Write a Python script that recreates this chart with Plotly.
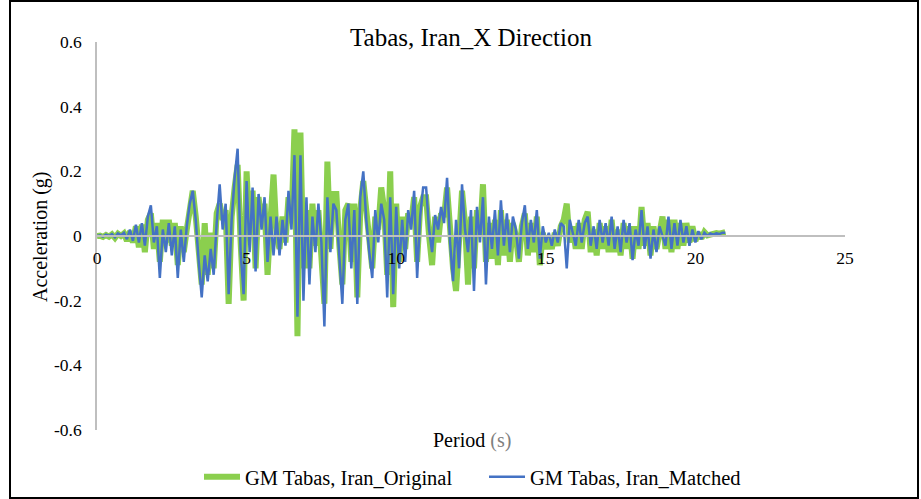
import numpy as np
import plotly.graph_objects as go

# sample times (s), 0.1 s step read grid
time_s = [round(0.1 * i, 1) for i in range(211)]

# GM Tabas, Iran_Original (g), values read per second of record
original = [
    0, 0.001, -0.003, 0.003, -0.002, 0.005, -0.006, 0.007, 0.000, 0.008,
    -0.015, 0.015, -0.02, 0.03, -0.035, 0.035, -0.05, 0.05, 0.07, -0.04,
    0.04, -0.08, 0.05, -0.02, 0.05, -0.03, 0.04, -0.09, 0.03, -0.05,
    0.02, 0.10, 0.14, 0.06, -0.05, -0.15, 0.04, -0.12, 0.01, -0.10,
    0.07, 0.10, 0.05, 0.08, -0.21, 0.06, 0.15, 0.22, -0.02, -0.20,
    0.20, 0.0, 0.14, -0.10, 0.12, 0.04, 0.10, -0.12, 0.05, 0.19,
    0.0, -0.04, 0.06, -0.02, 0.12, 0.04, 0.33, -0.31, 0.32, -0.10,
    0.08, -0.10, 0.10, -0.03, 0.08, -0.05, -0.21, 0.23, -0.04, 0.13,
    0.13, -0.03, -0.15, 0.08, 0.10, -0.08, 0.10, -0.19, 0.08, 0.17,
    0.07, -0.02, -0.10, 0.06, 0.02, 0.15, 0.08, -0.12, 0.20, -0.22,
    0.10, -0.08, 0.06, -0.04, 0.07, 0.04, 0.12, -0.08, 0.09, 0.12,
    0.12, 0.0, -0.09, 0.06, -0.02, 0.07, 0.06, 0.15, 0.00, -0.10,
    -0.17, -0.03, 0.14, 0.04, -0.15, 0.06, -0.10, 0.08, 0.00, 0.16,
    -0.08, 0.04, -0.07, 0.05, -0.09, 0.08, -0.06, 0.05, -0.08, 0.04,
    0.00, -0.08, 0.03, 0.07, -0.06, 0.04, -0.05, 0.06, -0.09, 0.01,
    -0.04, -0.01, -0.04, 0.01, -0.03, 0.03, 0.05, 0.10, -0.02, 0.03,
    -0.04, 0.04, -0.04, 0.05, 0.075, -0.05, 0.02, -0.06, 0.04, -0.04,
    0.03, -0.05, 0.05, -0.05, 0.02, -0.06, 0.04, -0.04, 0.03, -0.07,
    0.03, -0.04, 0.09, -0.03, 0.04, -0.06, 0.03, -0.04, 0.02, 0.06,
    -0.04, 0.05, -0.05, 0.05, -0.04, 0.04, -0.03, 0.04, -0.02, 0.03,
    -0.015, 0.01, -0.008, 0.012, 0.002, 0.006, 0.005, 0.009, 0.007, 0.01, 0.012,
]

# GM Tabas, Iran_Matched (g)
matched = [
    0, 0.002, -0.002, 0.004, 0.000, 0.006, -0.004, 0.008, 0.002, 0.01,
    -0.01, 0.02, -0.015, 0.035, -0.02, 0.04, -0.03, 0.06, 0.095, -0.02,
    0.03, -0.13, 0.02, -0.05, 0.04, -0.06, 0.03, -0.13, 0.02, -0.08,
    0.03, 0.10, 0.14, 0.05, -0.08, -0.19, -0.06, -0.14, -0.04, -0.12,
    0.04, 0.16, 0.02, 0.10, -0.18, 0.05, 0.18, 0.27, -0.05, -0.18,
    0.17, -0.05, 0.15, -0.11, 0.13, 0.02, 0.12, -0.08, 0.06, -0.06,
    0.06, -0.06, 0.05, -0.03, 0.14, 0.02, 0.25, -0.25, 0.25, -0.20,
    0.12, -0.15, 0.06, -0.05, 0.10, -0.02, -0.28, 0.12, -0.05, 0.10,
    0.08, -0.05, -0.21, 0.05, 0.10, -0.10, 0.08, -0.21, 0.12, 0.20,
    0.05, -0.05, -0.13, 0.08, -0.02, 0.10, 0.05, -0.19, 0.12, -0.18,
    0.09, -0.10, 0.05, -0.08, 0.08, 0.02, 0.14, -0.13, 0.06, 0.15,
    0.15, 0.02, -0.05, 0.065, 0.02, 0.09, 0.04, 0.18, -0.02, -0.14,
    0.05, -0.10, 0.16, 0.02, -0.05, 0.08, -0.17, 0.09, -0.02, 0.12,
    -0.15, 0.06, -0.04, 0.08, -0.06, 0.11, -0.03, 0.07, -0.05, 0.06,
    0.02, -0.07, 0.04, 0.095, -0.04, 0.05, -0.02, 0.08, -0.07, 0.03,
    -0.02, 0.01, -0.03, 0.02, -0.02, 0.04, 0.03, -0.10, 0.05, 0.01,
    -0.03, 0.05, -0.02, 0.04, 0.06, -0.03, 0.03, -0.04, 0.05, -0.02,
    0.04, -0.03, 0.06, -0.04, 0.03, -0.05, 0.05, -0.02, 0.04, -0.075,
    0.02, -0.03, 0.08, -0.04, 0.03, -0.07, 0.02, -0.05, 0.03, 0.00,
    -0.03, 0.06, -0.04, 0.04, -0.03, 0.05, -0.02, 0.03, -0.03, 0.02,
    -0.02, 0.015, -0.01, 0.01, 0.0, 0.008, 0.004, 0.008, 0.006, 0.01, 0.01,
]

x_ticks = [0, 5, 10, 15, 20, 25]
y_ticks = [-0.6, -0.4, -0.2, 0, 0.2, 0.4, 0.6]
y_tick_labels = ["-0.6", "-0.4", "-0.2", "0", "0.2", "0.4", "0.6"]

FONT = "Liberation Serif"

fig = go.Figure()
fig.add_trace(go.Scatter(
    x=time_s, y=original, mode="lines", name="GM Tabas, Iran_Original",
    line=dict(color="#8BCF4E", width=6),
))
fig.add_trace(go.Scatter(
    x=time_s, y=matched, mode="lines", name="GM Tabas, Iran_Matched",
    line=dict(color="#4472C4", width=2.5),
))

L, R, T, B = 97, 76, 42, 69
W, H = 921, 499
pw, ph = W - L - R, H - T - B

def px_x(px):
    return (px - L) / pw

def px_y(py):
    return (H - B - py) / ph

fig.update_layout(
    width=W, height=H,
    margin=dict(l=L, r=R, t=T, b=B, autoexpand=False),
    paper_bgcolor="white", plot_bgcolor="white",
    font=dict(family=FONT, size=17, color="#000000"),
    title=dict(text="Tabas, Iran_X Direction", x=0.5, xanchor="center",
               xref="paper", y=1 - 37 / H, yanchor="middle",
               font=dict(family=FONT, size=25, color="#000000")),
    showlegend=True,
    legend=dict(orientation="h", x=px_x(484), xanchor="center", y=px_y(477), yanchor="middle",
                font=dict(family=FONT, size=20.5), itemwidth=36,
                entrywidth=234, entrywidthmode="pixels",
                bgcolor="rgba(0,0,0,0)"),
    xaxis=dict(range=[0, 25], tickvals=x_ticks, ticktext=[str(v) for v in x_ticks],
               showgrid=False, zeroline=False, showline=True, linecolor="#BFBFBF",
               linewidth=1.5, anchor="free", position=0.5, ticks="",
               ticklabelstandoff=6, tickfont=dict(family=FONT, size=17.5)),
    yaxis=dict(range=[-0.6, 0.6], tickvals=y_ticks, ticktext=y_tick_labels,
               showgrid=False, zeroline=False, showline=True, linecolor="#BFBFBF",
               linewidth=1.5, ticks="", ticklabelstandoff=10,
               tickfont=dict(family=FONT, size=17.5)),
    annotations=[
        dict(text="Period <span style='color:#7F7F7F'>(s)</span>", xref="paper", yref="paper",
             x=px_x(472), y=px_y(441), xanchor="center", yanchor="middle", showarrow=False,
             font=dict(family=FONT, size=20, color="#000000")),
        dict(text="Acceleration (g)", xref="paper", yref="paper",
             x=px_x(40), y=px_y(237), xanchor="center", yanchor="middle", showarrow=False,
             textangle=-90, font=dict(family=FONT, size=20, color="#000000")),
    ],
    shapes=[
        dict(type="rect", xref="paper", yref="paper",
             x0=px_x(10), x1=px_x(918), y0=px_y(498), y1=px_y(1),
             line=dict(color="#000000", width=2), fillcolor="rgba(0,0,0,0)", layer="below"),
    ],
)

fig.write_html("out.html", config={"displayModeBar": False},
               post_script="document.body.style.margin='0';")
